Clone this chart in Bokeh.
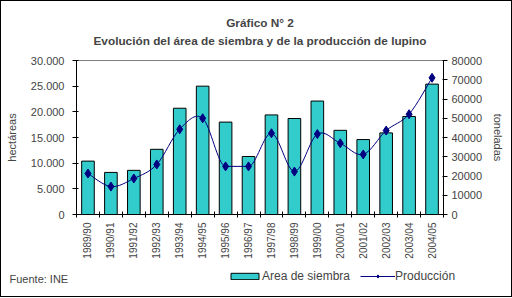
from bokeh.plotting import figure
from bokeh.layouts import column
from bokeh.models import (Range1d, LinearAxis, FixedTicker, CustomJSTickFormatter,
                          ColumnDataSource, Legend, LegendItem, Label, Title)
from bokeh.embed import file_html
from bokeh.resources import INLINE

seasons = ["1989/90", "1990/91", "1991/92", "1992/93", "1993/94", "1994/95", "1995/96",
           "1996/97", "1997/98", "1998/99", "1999/00", "2000/01", "2001/02", "2002/03",
           "2003/04", "2004/05"]
area = [10400, 8200, 8600, 12700, 20700, 25000, 18000, 11300,
        19400, 18700, 22100, 16400, 14600, 15900, 19100, 25400]
produccion = [21300, 14500, 18700, 26000, 44300, 50000, 25000, 25000,
              42200, 22300, 41800, 37000, 31200, 43600, 52100, 71000]
left_ticks = [0, 5000, 10000, 15000, 20000, 25000, 30000]
right_ticks = [0, 10000, 20000, 30000, 40000, 50000, 60000, 70000, 80000]

FONT = "Liberation Sans"
BAR = "#33CCCC"
NAVY = "#000080"
n = len(seasons)
xs = [i + 0.5 for i in range(n)]

p = figure(width=510, height=262, output_backend="svg", toolbar_location=None,
           x_range=Range1d(0, n), y_range=Range1d(0, 30000),
           min_border_left=75, min_border_right=68, min_border_top=59, min_border_bottom=49,
           background_fill_color="white", border_fill_color="white")
p.extra_y_ranges = {"prod": Range1d(0, 80000)}
p.xgrid.visible = False
p.ygrid.visible = False
p.outline_line_color = "#808080"

src = ColumnDataSource(dict(x=xs, area=area, prod=produccion))
p.vbar(x="x", top="area", width=0.55, source=src, fill_color=BAR,
       line_color="black", line_width=1)

# smoothed production line: Bezier segments through the data points
P = list(zip(xs, produccion))
tangents = []
for i in range(n):
    pm = P[i - 1] if i > 0 else P[i]
    pn = P[i + 1] if i + 1 < n else P[i]
    tx = (pn[0] - pm[0]) / 6
    ty = (pn[1] - pm[1]) / 6
    if (i > 0 and P[i][1] == pm[1]) or (i + 1 < n and P[i][1] == pn[1]):
        ty = 0.0
    tangents.append((tx, ty))
x0s, y0s, x1s, y1s, cx0, cy0, cx1, cy1 = [], [], [], [], [], [], [], []
for i in range(n - 1):
    pa, pb = P[i], P[i + 1]
    ta, tb = tangents[i], tangents[i + 1]
    x0s.append(pa[0]); y0s.append(pa[1]); x1s.append(pb[0]); y1s.append(pb[1])
    cx0.append(pa[0] + ta[0]); cy0.append(pa[1] + ta[1])
    cx1.append(pb[0] - tb[0]); cy1.append(pb[1] - tb[1])
p.bezier(x0=x0s, y0=y0s, x1=x1s, y1=y1s, cx0=cx0, cy0=cy0, cx1=cx1, cy1=cy1,
         line_color=NAVY, line_width=1, y_range_name="prod")
p.scatter(x="x", y="prod", source=src, marker="diamond", size=9,
          fill_color=NAVY, line_color=NAVY, y_range_name="prod")

# axes
xa = p.xaxis[0]
xa.ticker = FixedTicker(ticks=xs, minor_ticks=list(range(n + 1)))
xa.formatter = CustomJSTickFormatter(args=dict(labels=seasons),
                                     code="return labels[Math.floor(tick)] || '';")
xa.major_tick_in = 0
xa.major_tick_out = 0
xa.minor_tick_in = 3
xa.minor_tick_out = 3
xa.minor_tick_line_color = "black"
xa.major_label_orientation = 3.14159265 / 2
xa.major_label_standoff = 5
xa.major_label_text_font = FONT
xa.major_label_text_font_size = "10px"
xa.axis_line_color = "black"

ya = p.yaxis[0]
ya.ticker = FixedTicker(ticks=left_ticks)
ya.formatter = CustomJSTickFormatter(
    code="return tick.toFixed(0).replace(/\\B(?=(\\d{3})+(?!\\d))/g, '.');")
ya.axis_label = "hectáreas"
ya.axis_label_text_font = FONT
ya.axis_label_text_font_style = "normal"
ya.axis_label_text_font_size = "11px"
ya.axis_label_standoff = 10
ya.major_label_text_font = FONT
ya.major_label_text_font_size = "11px"
ya.major_label_standoff = 8
ya.major_tick_in = 2
ya.major_tick_out = 4
ya.minor_tick_line_color = None
ya.axis_line_color = "black"

ra = LinearAxis(y_range_name="prod", ticker=FixedTicker(ticks=right_ticks),
                formatter=CustomJSTickFormatter(code="return tick.toFixed(0);"))
ra.axis_label = "toneladas"
ra.axis_label_text_font = FONT
ra.axis_label_text_font_style = "normal"
ra.axis_label_text_font_size = "11px"
ra.axis_label_standoff = 7
ra.major_label_text_font = FONT
ra.major_label_text_font_size = "11px"
ra.major_label_standoff = 4
ra.major_tick_in = 1
ra.major_tick_out = 4
ra.minor_tick_line_color = None
ra.axis_line_color = "black"
p.add_layout(ra, "right")

# titles (first added sits nearest the plot); a thin blank spacer first
p.add_layout(Title(text=" ", text_font_size="1px", standoff=9), "above")
p.add_layout(Title(text="Evolución del área de siembra y de la producción de lupino",
                   align="center", text_font=FONT, text_font_size="11.8px",
                   text_font_style="bold", standoff=2), "above")
p.add_layout(Title(text="Gráfico N° 2", align="center", text_font=FONT,
                   text_font_size="11.8px", text_font_style="bold", standoff=2), "above")

# bottom strip: source note and legend
b = figure(width=510, height=33, output_backend="svg", toolbar_location=None,
           x_range=Range1d(0, 510), y_range=Range1d(0, 33), min_border=0,
           x_axis_location=None, y_axis_location=None,
           background_fill_color="white", border_fill_color="white")
if "frame_align" in b.properties():
    b.frame_align = False
    p.frame_align = False
b.grid.visible = False
b.outline_line_color = None
nan = float("nan")
empty = ColumnDataSource(dict(x=[nan], y=[nan], top=[nan]))
lb = b.vbar(x="x", top="top", width=1, source=empty, fill_color=BAR,
            line_color="black", line_width=1)
ll = b.line(x="x", y="y", source=empty, line_color=NAVY, line_width=1)
lm = b.scatter(x="x", y="y", source=empty, marker="diamond", size=8,
               fill_color=NAVY, line_color=NAVY)
b.add_layout(Label(x=8, y=18, text="Fuente: INE", text_align="left",
                   text_baseline="middle", text_font=FONT, text_font_size="11px"))
legend = Legend(items=[LegendItem(label="Area de siembra", renderers=[lb]),
                       LegendItem(label="Producción", renderers=[ll, lm])],
                orientation="horizontal", location=(226, 13), padding=0, margin=0,
                spacing=10, glyph_width=35, glyph_height=8, label_standoff=0,
                label_height=12,
                label_text_font=FONT, label_text_font_size="12px",
                border_line_color=None, background_fill_alpha=0)
b.add_layout(legend, "center")

layout = column(p, b, spacing=0, styles={"border": "1px solid black"})
open("out.html", "w").write(file_html(layout, INLINE))
